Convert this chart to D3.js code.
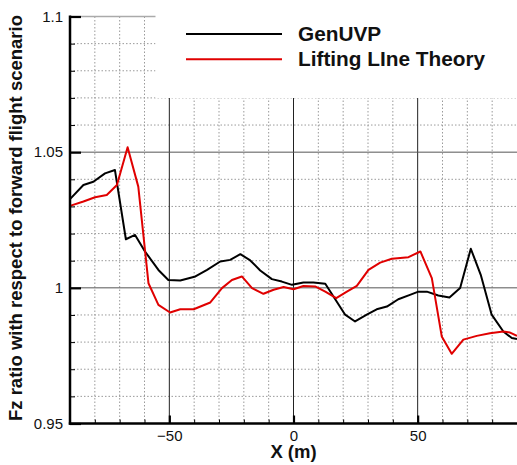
<!DOCTYPE html>
<html>
<head>
<meta charset="utf-8">
<script src="https://cdn.jsdelivr.net/npm/d3@7"></script>
<style>
  html, body { margin: 0; padding: 0; background: #fff; }
  svg { display: block; font-family: "Liberation Sans", Arial, sans-serif; }
</style>
</head>
<body>
<svg id="chart" width="517" height="465"></svg>
<script>
// Spanwise Fz ratio relative to forward flight
const genuvpX = [-90, -84.6, -80.6, -75.9, -71.9, -67.5, -63.8, -59.8, -54.4, -50.4, -45.6, -39.5, -34.8, -29.5, -25.5, -21.4, -17.4, -13.4, -8.7, -4.7, -0.6, 4.0, 8.0, 12.8, 16.8, 20.8, 24.8, 29.5, 33.5, 37.6, 42.2, 46.9, 50.3, 53.7, 58.3, 62.8, 67.1, 71.4, 75.4, 79.8, 84.5, 87.9, 90];
const genuvpY = [1.0327, 1.0379, 1.0391, 1.0422, 1.0434, 1.0179, 1.0195, 1.0134, 1.0066, 1.0029, 1.0027, 1.0042, 1.0066, 1.0097, 1.0103, 1.0124, 1.0101, 1.0064, 1.0032, 1.0023, 1.0011, 1.0020, 1.0020, 1.0015, 0.9958, 0.9901, 0.9876, 0.9901, 0.9921, 0.9931, 0.9958, 0.9974, 0.9986, 0.9986, 0.9972, 0.9964, 0.9999, 1.0144, 1.0048, 0.9901, 0.9839, 0.9815, 0.9811];

const lltX = [-90, -84.6, -79.9, -75.2, -71.1, -66.8, -62.5, -58.4, -54.4, -49.7, -45.6, -40.2, -33.5, -28.8, -24.8, -20.8, -16.7, -12.1, -8.0, -4.0, 0, 4.0, 8.7, 12.8, 17.2, 21.5, 25.5, 30.2, 34.9, 39.6, 46.3, 51.1, 55.7, 59.7, 63.7, 68.4, 73.8, 79.1, 84.5, 87.2, 90];
const lltY = [1.0302, 1.0318, 1.0334, 1.0342, 1.0379, 1.0518, 1.0373, 1.0017, 0.9937, 0.9909, 0.9921, 0.9921, 0.9946, 0.9999, 1.0029, 1.0042, 0.9999, 0.9978, 0.9993, 1.0003, 0.9995, 1.0007, 1.0005, 0.9986, 0.9962, 0.9986, 1.0007, 1.0066, 1.0093, 1.0107, 1.0113, 1.0134, 1.0036, 0.9821, 0.9757, 0.9809, 0.9823, 0.9833, 0.9839, 0.9835, 0.9823];

const xMajorTicks = [-50, 0, 50];
const xMinorTicks = [-80, -70, -60, -40, -30, -20, -10, 10, 20, 30, 40, 60, 70, 80];
const yMajorTicks = [0.95, 1, 1.05, 1.1];
const yTickLabels = ["0.95", "1", "1.05", "1.1"];
const yMinorTicks = [0.96, 0.97, 0.98, 0.99, 1.01, 1.02, 1.03, 1.04, 1.06, 1.07, 1.08, 1.09];

const seriesNames = ["GenUVP", "Lifting LIne Theory"];
const seriesColors = ["#000000", "#e00000"];

const svg = d3.select("#chart");
const plotLeft = 70, plotRight = 517, plotTop = 16.5, plotBottom = 423.5;

const x = d3.scaleLinear().domain([-90, 90]).range([plotLeft, plotRight]);
const y = d3.scaleLinear().domain([0.95, 1.1]).range([plotBottom, plotTop]);

// Grid
const grid = svg.append("g");
grid.selectAll(".vminor").data(xMinorTicks).join("line")
  .attr("x1", d => x(d)).attr("x2", d => x(d))
  .attr("y1", plotTop).attr("y2", plotBottom)
  .attr("stroke", "#9a9a9a").attr("stroke-width", 1).attr("stroke-dasharray", "1.5,2");
grid.selectAll(".hminor").data(yMinorTicks).join("line")
  .attr("x1", plotLeft).attr("x2", plotRight)
  .attr("y1", d => y(d)).attr("y2", d => y(d))
  .attr("stroke", "#9a9a9a").attr("stroke-width", 1).attr("stroke-dasharray", "1.5,2");
grid.selectAll(".vmajor").data(xMajorTicks).join("line")
  .attr("x1", d => x(d)).attr("x2", d => x(d))
  .attr("y1", plotTop).attr("y2", plotBottom)
  .attr("stroke", "#222").attr("stroke-width", 1);
grid.selectAll(".hmajor").data(yMajorTicks.filter(d => d > 0.95)).join("line")
  .attr("x1", plotLeft).attr("x2", plotRight)
  .attr("y1", d => y(d)).attr("y2", d => y(d))
  .attr("stroke", d => d === 1.1 ? "#aaa" : "#555").attr("stroke-width", d => d === 1.1 ? 1.5 : 1);

// Legend panel (opaque, hides the grid beneath)
svg.append("rect").attr("x", 155.5).attr("y", 0).attr("width", 517 - 155.5).attr("height", 98)
  .attr("fill", "#fff");

// Series
const line = d3.line().x(d => x(d[0])).y(d => y(d[1]));
const series = [
  d3.zip(genuvpX, genuvpY),
  d3.zip(lltX, lltY)
];
svg.append("g").selectAll("path").data(series).join("path")
  .attr("d", line)
  .attr("fill", "none")
  .attr("stroke", (d, i) => seriesColors[i])
  .attr("stroke-width", 2)
  .attr("stroke-linejoin", "round");

// Axes
const xAxisMajor = d3.axisBottom(x).tickValues(xMajorTicks).tickSize(-8).tickPadding(7).tickFormat(d3.format("d"));
const xAxisMinor = d3.axisBottom(x).tickValues(xMinorTicks).tickSize(-4).tickFormat("");
const yAxisMajor = d3.axisLeft(y).tickValues(yMajorTicks).tickSize(-11).tickPadding(7)
  .tickFormat((d, i) => yTickLabels[i]);
const yAxisMinor = d3.axisLeft(y).tickValues(yMinorTicks).tickSize(-5).tickFormat("");

function style(g, w) {
  g.select(".domain").remove();
  g.selectAll(".tick line").attr("stroke", "#000").attr("stroke-width", w);
  g.selectAll(".tick text").attr("fill", "#111").attr("font-size", 15)
    .attr("font-family", "'Liberation Sans', Arial, sans-serif");
}
svg.append("g").attr("transform", `translate(0,${plotBottom})`).call(xAxisMinor).call(g => style(g, 1));
svg.append("g").attr("transform", `translate(0,${plotBottom})`).call(xAxisMajor).call(g => style(g, 2.2));
svg.append("g").attr("transform", `translate(${plotLeft},0)`).call(yAxisMinor).call(g => style(g, 1));
svg.append("g").attr("transform", `translate(${plotLeft},0)`).call(yAxisMajor).call(g => style(g, 2.2));

// Axis lines
svg.append("line").attr("x1", plotLeft).attr("x2", plotLeft).attr("y1", plotTop - 1).attr("y2", plotBottom + 1.2)
  .attr("stroke", "#000").attr("stroke-width", 2.5);
svg.append("line").attr("x1", plotLeft - 1.2).attr("x2", plotRight).attr("y1", plotBottom).attr("y2", plotBottom)
  .attr("stroke", "#000").attr("stroke-width", 2.5);

// Axis titles
svg.append("text").attr("x", 293.5).attr("y", 458).attr("text-anchor", "middle")
  .attr("font-size", 18.5).attr("font-weight", "bold").attr("fill", "#111").text("X (m)");
svg.append("text").attr("transform", "translate(22,218) rotate(-90)").attr("text-anchor", "middle")
  .attr("font-size", 18.5).attr("font-weight", "bold").attr("fill", "#111")
  .text("Fz ratio with respect to forward flight scenario");

// Legend
const legend = svg.append("g");
const legendRows = legend.selectAll("g").data(seriesNames).join("g")
  .attr("transform", (d, i) => `translate(0,${34 + i * 25.3})`);
legendRows.append("line").attr("x1", 186).attr("x2", 282).attr("y1", 0).attr("y2", 0)
  .attr("stroke", (d, i) => seriesColors[i]).attr("stroke-width", 2);
legendRows.append("text").attr("x", 298).attr("y", 7).attr("font-size", 20.8).attr("font-weight", "bold")
  .attr("fill", "#111").text(d => d);
</script>
</body>
</html>
